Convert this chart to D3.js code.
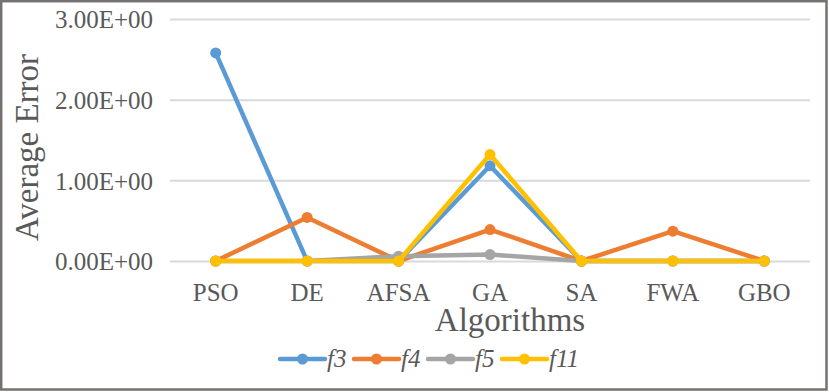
<!DOCTYPE html>
<html><head><meta charset="utf-8">
<script src="https://cdn.jsdelivr.net/npm/d3@7"></script>
<style>body{margin:0;background:#fff}svg{display:block}</style>
</head><body><svg id="c" width="829" height="392"></svg>
<script>
const categories = ["PSO","DE","AFSA","GA","SA","FWA","GBO"];
const seriesNames = ["f3","f4","f5","f11"];
const seriesColors = ["#5b9bd5","#ed7d31","#a5a5a5","#ffc000"];
const f3  = [2.58, 0, 0, 1.18, 0, 0, 0];
const f4  = [0, 0.54, 0, 0.39, 0, 0.37, 0];
const f5  = [0, 0, 0.06, 0.08, 0, 0, 0];
const f11 = [0, 0, 0, 1.32, 0, 0, 0];
const yTicks = [0, 1, 2, 3];
const yTickLabels = ["0.00E+00","1.00E+00","2.00E+00","3.00E+00"];
const seriesValues = [f3, f4, f5, f11];
const FONT = "'Liberation Serif', 'Times New Roman', serif";

const svg = d3.select("#c").attr("font-family", FONT);
svg.append("rect").attr("x",1.2).attr("y",1.2).attr("width",825.3).attr("height",388.3)
  .attr("fill","#fff").attr("stroke","#767171").attr("stroke-width",2.5);

const x = d3.scaleBand().domain(categories).range([170, 810]);
const y = d3.scaleLinear().domain([0, 3]).range([261, 19]);

const gAx = svg.append("g").attr("transform","translate(170,0)")
  .call(d3.axisLeft(y).tickValues(yTicks).tickSize(-640).tickFormat((d,i)=>yTickLabels[i]).tickPadding(17));
gAx.attr("font-family", FONT);
gAx.select(".domain").remove();
gAx.selectAll("line").attr("stroke","#d9d9d9").attr("stroke-width",2);
gAx.selectAll("text").attr("fill","#595959").style("font-family",FONT).style("font-size","25px").attr("dy","0.35em");

const gx = svg.append("g").attr("transform","translate(0,261)")
  .call(d3.axisBottom(x).tickSize(0).tickPadding(23));
gx.attr("font-family", FONT);
gx.select(".domain").remove();
gx.selectAll("text").attr("fill","#595959").style("font-family",FONT).style("font-size","25px").attr("dy","0.68em");

const line = d3.line().x((d,i)=>x(categories[i]) + x.bandwidth()/2).y(d=>y(d));
seriesValues.forEach((vals, s) => {
  const g = svg.append("g");
  g.append("path").datum(vals).attr("d", line).attr("fill","none")
    .attr("stroke", seriesColors[s]).attr("stroke-width",4.5).attr("stroke-linejoin","round").attr("stroke-linecap","round");
  g.selectAll("circle").data(vals).join("circle")
    .attr("cx",(d,i)=>x(categories[i]) + x.bandwidth()/2).attr("cy",d=>y(d)).attr("r",5.5)
    .attr("fill", seriesColors[s]);
});

svg.append("text").attr("transform","translate(38,147.5) rotate(-90)").attr("text-anchor","middle")
  .attr("fill","#595959").style("font-family",FONT).style("font-size","33px").text("Average Error");
svg.append("text").attr("x",510).attr("y",331).attr("text-anchor","middle")
  .attr("fill","#595959").style("font-family",FONT).style("font-size","33px").text("Algorithms");

const legX = [280, 354, 428, 502];
seriesNames.forEach((n, s) => {
  const g = svg.append("g").attr("transform",`translate(${legX[s]},359)`);
  g.append("line").attr("x1",0).attr("x2",45).attr("y1",0).attr("y2",0)
    .attr("stroke",seriesColors[s]).attr("stroke-width",4.5).attr("stroke-linecap","round");
  g.append("circle").attr("cx",22.5).attr("cy",0).attr("r",5.5).attr("fill",seriesColors[s]);
  g.append("text").attr("x",47).attr("y",8).attr("fill","#595959").style("font-family",FONT).style("font-size","25px")
    .style("font-style","italic").text(n);
});
</script></body></html>
